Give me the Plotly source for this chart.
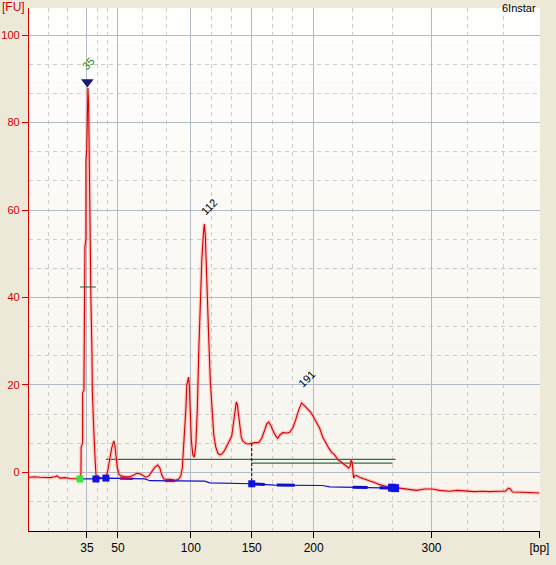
import plotly.graph_objects as go

# ---------------- data (migration position units on x, fluorescence FU on y) ----------------
trace_x = [29, 35, 40, 45, 50, 55, 57, 60, 65, 70, 75, 79,
           80, 81, 81.2, 82.7, 82.7, 84, 84.3, 85, 85, 86, 86, 86.8, 87.3, 87.6,
           88, 88.7, 89.2, 89.6, 90.5, 91, 92, 92.4, 93.5, 94.3, 95.3, 96, 97,
           100, 104, 106, 108, 110, 112, 114, 115, 116, 117.5, 119, 121, 125, 130,
           134, 137, 140, 143, 146, 149, 152, 155, 158, 160, 162, 164, 170, 176, 179,
           181, 182.5, 183, 184.5, 186, 187, 188, 188.8, 189.5, 190.5, 191.5, 193, 194.5,
           196, 197.5, 199, 200.5, 202, 203.5, 204.5, 205.5, 206.5, 207.5, 209, 210.5, 212,
           214, 216, 218, 220, 222, 225, 227, 230, 232, 234, 235.5, 236.5, 237.5, 238.5,
           240, 241.5, 243, 246, 249, 252, 255, 259, 262, 265, 267, 269, 271, 273, 276,
           278, 280, 283, 287, 290, 293, 296, 299, 302, 305, 308, 311, 314, 317, 320, 323,
           326, 329, 332, 335, 338, 341, 344, 347, 349, 350.5, 351.5, 352.5, 353.3, 354,
           355, 357, 360, 363, 367, 371, 375, 380, 385, 390, 394,
           400, 405, 410, 417, 425, 433, 440, 450, 458, 467, 475, 483, 490, 500, 506,
           509, 511, 513, 520, 530, 540]
trace_fu = [-1.1, -1.0, -1.1, -1.1, -1.2, -1.0, -0.8, -1.3, -1.2, -1.4, -1.5, -1.6,
            -1.5, -0.2, 5.8, 6.7, 18.2, 18.8, 28.7, 30.3, 51.6, 53.2, 71.5, 73.8, 87.5, 87.9,
            87.9, 84.1, 72.0, 60.0, 48.5, 39.4, 27.9, 18.5, 11.8, 5.8, 2.4, -0.4, -1.3,
            -1.2, -1.3, -1.1, 0.5, 3.3, 5.8, 7.2, 6.2, 4.0, 1.0, -0.4, -0.8, -1.0, -1.0,
            -0.6, -0.2, -0.3, -0.7, -1.1, -0.8, 0.1, 1.2, 1.7, 1.0, -0.6, -1.5, -1.6, -1.8, -1.5,
            -0.8, 1.0, 2.8, 7.4, 14.3, 20.0, 21.1, 21.8, 20.0, 14.3, 7.4, 4.0, 3.5,
            6.2, 14.3, 28.0, 39.4, 48.5, 54.3, 56.8, 54.3, 46.3, 39.4, 30.3, 21.1, 14.3,
            8.5, 5.8, 4.4, 4.0, 4.2, 5.1, 6.2, 7.4, 8.3, 12.0, 15.4, 16.1, 15.6, 13.8,
            10.4, 8.1, 7.2, 6.6, 6.5, 6.7, 6.8, 6.8, 7.8, 9.7, 11.1, 11.5, 10.8, 9.7, 8.3,
            7.8, 8.5, 9.1, 9.0, 9.2, 10.1, 12.0, 14.3, 15.9, 15.2, 14.5, 13.8, 12.6, 11.5, 10.1, 8.1,
            6.7, 5.6, 4.6, 4.0, 3.0, 2.4, 1.9, 1.4, 1.0, 1.4, 2.8, 2.4, 0.1, -1.3,
            -0.8, -0.7, -1.1, -1.3, -1.6, -2.0, -2.3, -2.8, -3.1, -3.4, -3.6,
            -3.6, -3.7, -3.8, -4.1, -3.8, -3.8, -4.1, -4.3, -4.1, -4.3, -4.4, -4.3, -4.4, -4.3, -4.3,
            -3.6, -3.8, -4.5, -4.5, -4.6, -4.7]

# baseline
base_x = [80, 96, 106, 145, 150, 205, 210, 252, 275, 323, 330, 395]
base_fu = [-1.5, -1.5, -1.3, -1.5, -1.9, -2.0, -2.4, -2.6, -2.9, -3.0, -3.3, -3.6]
thick_segments = [(252, 265), (277, 295), (353, 368), (380, 395)]
purple_segments = [(120, 133), (165, 175)]

# markers
start_marker = (80, -1.5)
blue_marker_x = [96, 106, 252]
blue_marker_fu = [-1.5, -1.3, -2.6]
end_marker_x = [392.5, 395.5]
end_marker_fu = [-3.5, -3.6]

# region / smear lines
region_upper = (106, 396, 3.0)
region_lower = (252, 393, 2.1)
half_height_marker = (80, 96, 42.4)
dashed_marker = (252, 6.7, -2.6)

# peaks
peak_x = [87.6, 204.8, 302]
peak_fu = [87.9, 56.8, 15.9]
peak_labels = ["35", "112", "191"]
peak_colors = ["#1e8a28", "black", "black"]
peak_shift = [(0, 13), (4, 4), (5, 10)]
lower_marker = (87.4, 89.3)

# axes
x_major = [87, 118, 191, 252, 314, 432, 540]
x_labels = ["35", "50", "100", "150", "200", "300", "[bp]"]
x_minor = [48.3, 67.7, 97.3, 107.7, 142.3, 166.7, 211.3, 231.7, 272.7, 293.3,
           353.3, 392.7, 468, 504]
y_major = [0, 20, 40, 60, 80, 100]

FONT = "Liberation Sans, Arial, sans-serif"
RED = "#d40000"

fig = go.Figure()

# background gradient bands (below gridlines)
n_bands = 14
top_c = (254, 254, 252)
bot_c = (246, 244, 236)
for i in range(n_bands):
    f = i / (n_bands - 1)
    c = tuple(int(round(top_c[k] + (bot_c[k] - top_c[k]) * f)) for k in range(3))
    fig.add_shape(type="rect", xref="paper", yref="paper",
                  x0=0, x1=1, y0=1 - (i + 1) / n_bands, y1=1 - i / n_bands,
                  fillcolor="rgb(%d,%d,%d)" % c, line_width=0, layer="below")

# green region lines
fig.add_trace(go.Scatter(x=[region_upper[0], region_upper[1]], y=[region_upper[2]] * 2,
                         mode="lines", line=dict(color="#2a6e4c", width=1.3), hoverinfo="skip"))
fig.add_trace(go.Scatter(x=[region_lower[0], region_lower[1]], y=[region_lower[2]] * 2,
                         mode="lines", line=dict(color="#2a6e4c", width=1.3), hoverinfo="skip"))

# glow + red trace
fig.add_trace(go.Scatter(x=trace_x, y=trace_fu, mode="lines",
                         line=dict(color="rgba(255,140,140,0.45)", width=3.5), hoverinfo="skip"))
fig.add_trace(go.Scatter(x=trace_x, y=trace_fu, mode="lines",
                         line=dict(color=RED, width=1.1)))

# baseline
fig.add_trace(go.Scatter(x=base_x, y=base_fu, mode="lines",
                         line=dict(color="#1010cc", width=1.2), hoverinfo="skip"))


def interp(xv):
    for i in range(len(base_x) - 1):
        if base_x[i] <= xv <= base_x[i + 1]:
            t = (xv - base_x[i]) / (base_x[i + 1] - base_x[i])
            return base_fu[i] + t * (base_fu[i + 1] - base_fu[i])
    return base_fu[-1]


for a, b in thick_segments:
    fig.add_trace(go.Scatter(x=[a, b], y=[interp(a), interp(b)], mode="lines",
                             line=dict(color="#1010cc", width=3), hoverinfo="skip"))
for a, b in purple_segments:
    fig.add_trace(go.Scatter(x=[a, b], y=[interp(a), interp(b)], mode="lines",
                             line=dict(color="#8a0a8a", width=2.5), hoverinfo="skip"))

# half height marker
fig.add_trace(go.Scatter(x=[half_height_marker[0], half_height_marker[1]],
                         y=[half_height_marker[2]] * 2, mode="lines",
                         line=dict(color="#2a5a40", width=1), hoverinfo="skip"))
# dashed vertical
fig.add_trace(go.Scatter(x=[dashed_marker[0]] * 2, y=[dashed_marker[1], dashed_marker[2]],
                         mode="lines", line=dict(color="black", width=1, dash="3px,2px"),
                         hoverinfo="skip"))

# markers
fig.add_trace(go.Scatter(x=[start_marker[0]], y=[start_marker[1]], mode="markers",
                         marker=dict(symbol="square", size=7, color="#38e838"), hoverinfo="skip"))
fig.add_trace(go.Scatter(x=blue_marker_x, y=blue_marker_fu, mode="markers",
                         marker=dict(symbol="square", size=7, color="#1212e0"), hoverinfo="skip"))
fig.add_trace(go.Scatter(x=end_marker_x, y=end_marker_fu, mode="markers",
                         marker=dict(symbol="square", size=8, color="#1212e0"), hoverinfo="skip"))
fig.add_trace(go.Scatter(x=[lower_marker[0]], y=[lower_marker[1]], mode="markers",
                         marker=dict(symbol="triangle-down", size=11, color="#1a1a70"),
                         hoverinfo="skip"))

# peak labels
for px, pf, lab, col, (xs, ys) in zip(peak_x, peak_fu, peak_labels, peak_colors, peak_shift):
    fig.add_annotation(x=px, y=pf, text=lab, showarrow=False, textangle=-45,
                       xanchor="center", yanchor="bottom", xshift=xs, yshift=ys,
                       font=dict(family=FONT, size=11, color=col))

fig.add_annotation(xref="paper", yref="paper", x=-29 / 511, y=1, text="[FU]",
                   showarrow=False, xanchor="left", yanchor="middle", yshift=1,
                   font=dict(family=FONT, size=12, color=RED))
fig.add_annotation(xref="paper", yref="paper", x=1, y=1, text="6Instar",
                   showarrow=False, xanchor="right", yanchor="middle", xshift=-2, yshift=0,
                   font=dict(family=FONT, size=11, color="black"))

fig.update_layout(
    width=556, height=565,
    margin=dict(l=29, r=16, t=8, b=34, autoexpand=False),
    paper_bgcolor="#ece9d8",
    plot_bgcolor="rgba(0,0,0,0)",
    showlegend=False,
    font=dict(family=FONT, size=11),
    xaxis=dict(range=[29, 540.6], tickmode="array", tickvals=x_major, ticktext=x_labels,
               automargin=False,
               showgrid=True, gridcolor="#b2bac6", gridwidth=1, zeroline=False,
               showline=True, linecolor="black", linewidth=1,
               ticks="outside", ticklen=6, tickcolor="black",
               tickfont=dict(family=FONT, size=12, color="black"),
               minor=dict(tickmode="array", tickvals=x_minor, showgrid=True,
                          gridcolor="#cdcdcd", griddash="4px,4px", gridwidth=1, ticks="")),
    yaxis=dict(range=[-13.4, 106.2], tickmode="array", tickvals=y_major,
               automargin=False,
               showgrid=True, gridcolor="#b2bac6", gridwidth=1, zeroline=False,
               showline=True, linecolor=RED, linewidth=1.2,
               ticks="outside", ticklen=6, tickcolor=RED,
               tickfont=dict(family=FONT, size=11, color=RED),
               minor=dict(tick0=0, dtick=20 / 3, showgrid=True, gridcolor="#cdcdcd",
                          griddash="4px,4px", gridwidth=1, ticks="")),
)

fig.write_html("out.html", config={"displayModeBar": False},
               post_script="document.body.style.margin='0';document.body.style.padding='0';")
